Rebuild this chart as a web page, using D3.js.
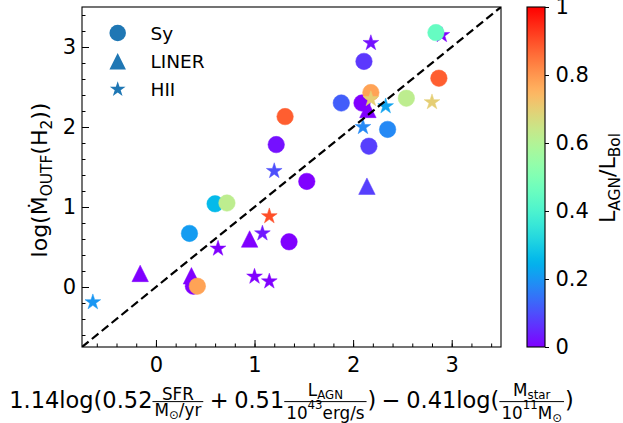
<!DOCTYPE html>
<html><head><meta charset="utf-8">
<script src="https://cdn.jsdelivr.net/npm/d3@7/dist/d3.min.js"></script>
<style>
body{margin:0;background:#fff}
svg text{font-family:"DejaVu Sans",sans-serif;fill:#000}
</style>
</head><body>
<svg id="chart" width="623" height="423"></svg>
<script>
// ---------------- data (draw order) ----------------
const pointType = ["Sy","Sy","Sy","Sy","Sy","Sy","Sy","Sy","Sy","Sy","Sy","Sy","Sy","Sy","Sy",
  "LINER","LINER","LINER","LINER","LINER",
  "Sy","Sy","HII","Sy",
  "HII","HII","HII","HII","HII","HII","HII","HII","HII","HII","HII","HII"];
const pointX = [2.11,2.87,2.54,1.88,2.09,1.31,2.35,1.22,2.16,1.53,0.60,0.72,0.34,1.35,0.38,
  2.15,2.14,0.95,-0.16,0.36,
  0.42,2.18,2.90,2.84,
  2.18,2.18,2.80,2.33,2.10,1.20,1.15,1.08,0.63,1.00,1.15,-0.64];
const pointY = [2.82,2.61,2.36,2.30,2.30,2.13,1.97,1.78,1.76,1.32,1.04,1.05,0.67,0.565,0.01,
  2.22,1.26,0.60,0.17,0.14,
  0.01,2.43,3.15,3.18,
  3.05,2.35,2.31,2.26,2.00,1.45,0.885,0.67,0.48,0.13,0.07,-0.19];
const pointFrac = [0.07,0.88,0.62,0.12,0.0,0.88,0.18,0.02,0.08,0.0,0.26,0.62,0.21,0.0,0.0,
  0.0,0.08,0.0,0.0,0.0,
  0.78,0.78,0.0,0.45,
  0.02,0.70,0.70,0.22,0.18,0.10,0.90,0.03,0.0,0.0,0.0,0.20];
const xTicks = [0,1,2,3];
const yTicks = [0,1,2,3];
const cbTicks = [0,0.2,0.4,0.6,0.8,1];
const legendLabels = ["Sy","LINER","HII"];
const axisLimits = [-0.75,3.5];

// ---------------- setup ----------------
const svg = d3.select("#chart");
const W = {l:82, r:501, t:7, b:347};
const x = d3.scaleLinear().domain(axisLimits).range([W.l, W.r]);
const y = d3.scaleLinear().domain(axisLimits).range([W.b, W.t]);

function mplRainbow(t){
  const r = Math.min(1, Math.abs(2*t-0.5));
  const g = Math.sin(Math.PI*t);
  const b = Math.cos(Math.PI*t/2);
  return d3.rgb(r*255, Math.max(0,g)*255, Math.max(0,b)*255).toString();
}
const color = d3.scaleSequential(mplRainbow).domain([0,1]);

// marker shapes (size = marker width in px)
const shapes = {
  Sy: {draw(ctx, s){ const r=s/2; ctx.moveTo(r,0); ctx.arc(0,0,r,0,2*Math.PI); ctx.closePath(); }},
  LINER: {draw(ctx, s){ const h=s/2; ctx.moveTo(0,-h); ctx.lineTo(-h,h); ctx.lineTo(h,h); ctx.closePath(); }},
  HII: {draw(ctx, s){ const R=s/2, ri=R*0.381966;
    for(let i=0;i<10;i++){ const a=-Math.PI/2+i*Math.PI/5; const rr=i%2?ri:R;
      const px=rr*Math.cos(a), py=rr*Math.sin(a); if(i===0) ctx.moveTo(px,py); else ctx.lineTo(px,py);} ctx.closePath(); }}
};
const MS = 16.5;
const sym = t => d3.symbol().type(shapes[t]).size(MS)();

// clip
svg.append("clipPath").attr("id","clip").append("rect")
  .attr("x",W.l).attr("y",W.t).attr("width",W.r-W.l).attr("height",W.b-W.t);

// points
const pts = d3.range(pointX.length);
svg.append("g").attr("clip-path","url(#clip)").selectAll("path").data(pts).join("path")
  .attr("d", i => sym(pointType[i]))
  .attr("transform", i => `translate(${x(pointX[i])},${y(pointY[i])})`)
  .attr("fill", i => color(pointFrac[i]))
  .attr("stroke", i => color(pointFrac[i])).attr("stroke-width",0.5);

// 1:1 dashed line
svg.append("line").attr("clip-path","url(#clip)")
  .attr("x1",x(axisLimits[0])).attr("y1",y(axisLimits[0]))
  .attr("x2",x(axisLimits[1])).attr("y2",y(axisLimits[1]))
  .attr("stroke","#000").attr("stroke-width",2.2).attr("stroke-dasharray","8.5,4.2");

// axes
const minor = d3.range(-3,18).map(i=>+(i*0.2).toFixed(2));
const gx = svg.append("g").attr("transform",`translate(0,${W.b})`)
  .call(d3.axisBottom(x).tickValues(xTicks).tickSize(-7).tickPadding(10).tickFormat(d3.format("d")));
const gxm = svg.append("g").attr("transform",`translate(0,${W.b})`)
  .call(d3.axisBottom(x).tickValues(minor).tickSize(-3.5).tickFormat(""));
const gy = svg.append("g").attr("transform",`translate(${W.l},0)`)
  .call(d3.axisLeft(y).tickValues(yTicks).tickSize(-7).tickPadding(6).tickFormat(d3.format("d")));
const gym = svg.append("g").attr("transform",`translate(${W.l},0)`)
  .call(d3.axisLeft(y).tickValues(minor).tickSize(-3.5).tickFormat(""));
[gx,gxm,gy,gym].forEach(g=>{ g.select(".domain").remove(); g.selectAll("line").attr("stroke","#000").attr("stroke-width",1);
  g.selectAll("text").attr("font-size",21).attr("font-family","DejaVu Sans").attr("fill","#000"); });

// frame
svg.append("rect").attr("x",W.l).attr("y",W.t).attr("width",W.r-W.l).attr("height",W.b-W.t)
  .attr("fill","none").attr("stroke","#000").attr("stroke-width",1.1);

// legend
const lg = svg.append("g");
legendLabels.forEach((lab,i)=>{
  const cy = 33 + i*28.2;
  lg.append("path").attr("d", sym(lab)).attr("transform",`translate(117.7,${cy})`).attr("fill","#1f77b4");
  lg.append("text").attr("x",150.5).attr("y",cy).attr("dy","0.36em").attr("font-size",18.5).text(lab);
});

// colorbar
const CB = {x:527, w:18, t:7, b:347};
const grad = svg.append("defs").append("linearGradient").attr("id","cbg")
  .attr("x1",0).attr("y1",1).attr("x2",0).attr("y2",0);
d3.range(0,1.0001,0.02).forEach(t=>grad.append("stop").attr("offset",t).attr("stop-color",color(t)));
svg.append("rect").attr("x",CB.x).attr("y",CB.t).attr("width",CB.w).attr("height",CB.b-CB.t)
  .attr("fill","url(#cbg)").attr("stroke","#000").attr("stroke-width",1.1);
const cbScale = d3.scaleLinear().domain([0,1]).range([CB.b, CB.t]);
const gcb = svg.append("g").attr("transform",`translate(${CB.x+CB.w},0)`)
  .call(d3.axisRight(cbScale).tickValues(cbTicks).tickSize(4).tickPadding(6.5).tickFormat(d3.format("~g")));
gcb.select(".domain").remove();
gcb.selectAll("line").attr("stroke","#000").attr("stroke-width",1);
gcb.selectAll("text").attr("font-size",21).attr("font-family","DejaVu Sans").attr("fill","#000");

// rotated labels with subscripts
function rotLabel(cx, cy, parts, size){
  const t = svg.append("text").attr("transform",`translate(${cx},${cy}) rotate(-90)`)
    .attr("text-anchor","middle").attr("font-size",size);
  let cur = 0;
  parts.forEach(([s,m])=>{
    const target = m==="sub" ? size*0.21 : 0;
    t.append("tspan").attr("dy", target-cur).attr("font-size", m==="sub"? size*0.7 : size).text(s);
    cur = target;
  });
}
rotLabel(47, 180, [["log(","n"],["\u1E40","n"],["OUTF","sub"],["(H","n"],["2","sub"],["))","n"]], 22);
rotLabel(615, 178, [["L","n"],["AGN","sub"],["/L","n"],["Bol","sub"]], 22);

// x label (mathtext-like layout)
const xl = svg.append("g");
const MAIN = 22.5, FR = 16.8;
let cx = 0;
function runText(g, x0, base, pieces, size){
  let px = x0;
  pieces.forEach(([s,m])=>{
    const fs = m==="n"? size : size*0.7;
    const dy = m==="sub"? 3 : m==="sup"? -10 : 0;
    const t = g.append("text").attr("x",px).attr("y",base+dy).attr("font-size",fs).text(s);
    px += t.node().getComputedTextLength();
  });
  return px - x0;
}
function mainText(s){ cx += runText(xl, cx, 0, [[s,"n"]], MAIN); }
function op(s){ cx += 5.5; mainText(s); cx += 5.5; }
function frac(num, den){
  const bar = -6.7;
  const hasSub = num.some(p=>p[1]==="sub");
  const hasSup = den.some(p=>p[1]==="sup");
  const gn = xl.append("g"), gd = xl.append("g");
  const nb = bar - 2 - (hasSub?3.5:0);
  const db = bar + 2.5 + 11.8 + (hasSup?3.5:0);
  const nw = runText(gn, 0, nb, num, FR);
  const dw = runText(gd, 0, db, den, FR);
  const w = Math.max(nw, dw) + 4;
  gn.attr("transform",`translate(${cx+(w-nw)/2},0)`);
  gd.attr("transform",`translate(${cx+(w-dw)/2},0)`);
  xl.append("line").attr("x1",cx).attr("x2",cx+w).attr("y1",bar).attr("y2",bar)
    .attr("stroke","#000").attr("stroke-width",1);
  cx += w + 1;
}
mainText("1.14log(0.52");
frac([["SFR","n"]], [["M","n"],["\u2299","sub"],["/yr","n"]]);
op("+");
mainText("0.51");
frac([["L","n"],["AGN","sub"]], [["10","n"],["43","sup"],["erg/s","n"]]);
mainText(")");
op("\u2212");
mainText("0.41log(");
frac([["M","n"],["star","sub"]], [["10","n"],["11","sup"],["M","n"],["\u2299","sub"]]);
mainText(")");
xl.attr("transform",`translate(${(W.l+W.r)/2 - cx/2},408.3)`);
</script>
</body></html>
